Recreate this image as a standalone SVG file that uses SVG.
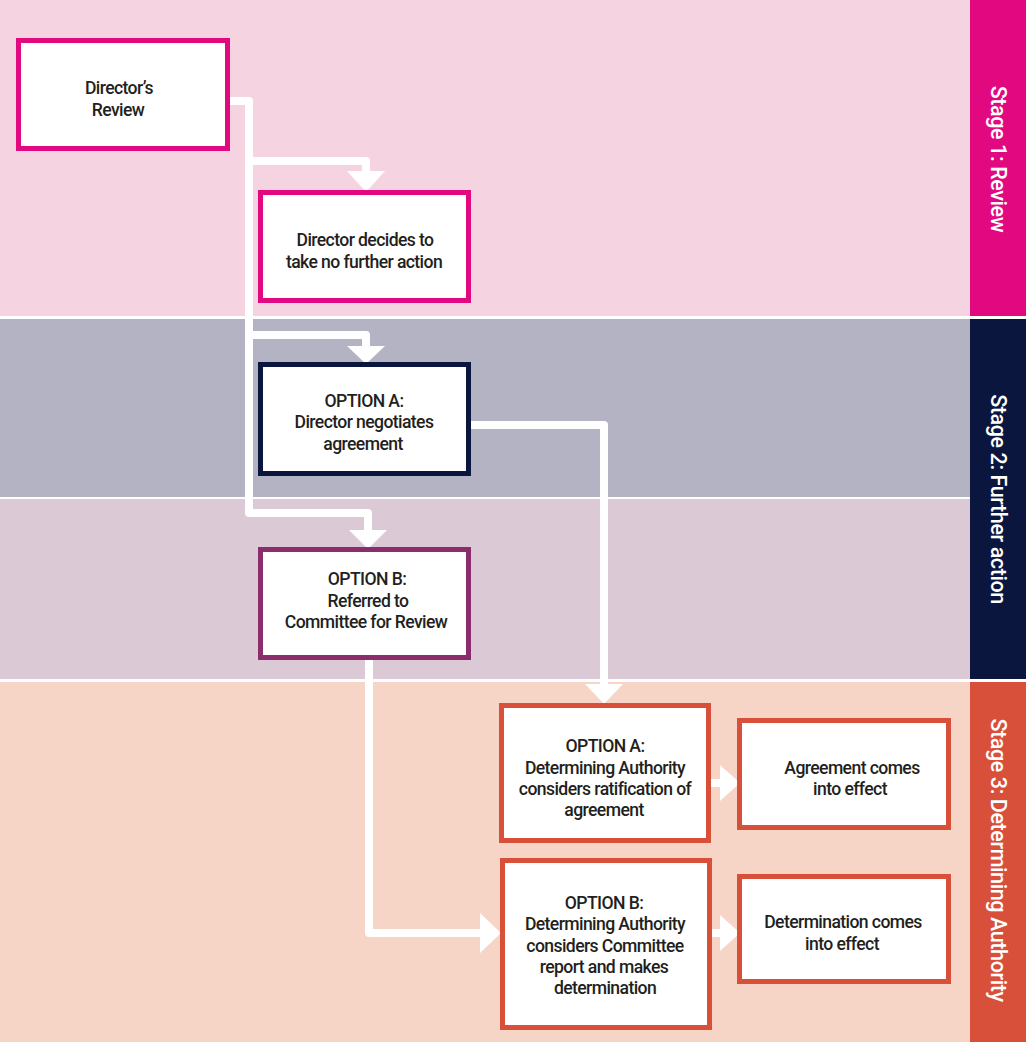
<svg xmlns="http://www.w3.org/2000/svg" width="1026" height="1042" viewBox="0 0 1026 1042">
<defs>
<style>
.box{fill:#ffffff;stroke-width:5}
.t{font-family:Roboto,"Liberation Sans",sans-serif;font-weight:500;font-size:17.6px;fill:#231f20;text-anchor:middle;letter-spacing:-0.6px}
.side{font-family:Roboto,"Liberation Sans",sans-serif;font-weight:500;font-size:21.5px;fill:#ffffff;text-anchor:middle;dominant-baseline:central;letter-spacing:-0.4px}
.con{fill:none;stroke:#ffffff;stroke-width:8;stroke-linejoin:round;stroke-linecap:butt}
.ah{fill:#ffffff}
</style>
</defs>
<!-- background bands -->
<rect x="0" y="0" width="1026" height="1042" fill="#ffffff"/>
<rect x="0" y="0" width="970" height="316" fill="#f6d3e1"/>
<rect x="0" y="319" width="970" height="178" fill="#b4b3c3"/>
<rect x="0" y="499" width="970" height="180" fill="#dcc9d6"/>
<rect x="0" y="682" width="970" height="360" fill="#f6d4c6"/>
<!-- sidebar -->
<rect x="970" y="0" width="56" height="316" fill="#e2087f"/>
<rect x="970" y="319" width="56" height="360" fill="#0b163e"/>
<rect x="970" y="682" width="56" height="360" fill="#d9503a"/>
<text class="side" transform="translate(998,159) rotate(90)">Stage 1: Review</text>
<text class="side" transform="translate(998,499) rotate(90)">Stage 2: Further action</text>
<text class="side" transform="translate(998,860) rotate(90)">Stage 3: Determining Authority</text>
<!-- connectors -->
<g id="connectors">
<path class="con" d="M226,101 H249 V513 H368 V534"/>
<path class="con" d="M249,161 H366 V175"/>
<path class="con" d="M245,335 H366 V350"/>
<polygon class="ah" points="347,171 385,171 366,192"/>
<polygon class="ah" points="347,346 385,346 366,364"/>
<polygon class="ah" points="349,530 387,530 368,549"/>
<path class="con" d="M467,425 H604 V690"/>
<polygon class="ah" points="585,684 623,684 604,704"/>
<path class="con" d="M369,657 V933 H485"/>
<polygon class="ah" points="480,913 480,953 501,933"/>
<path class="con" d="M706,783 H724"/>
<polygon class="ah" points="720,765 720,801 740,783"/>
<path class="con" d="M707,933 H724"/>
<polygon class="ah" points="720,915 720,951 740,933"/>
</g>
<!-- nodes -->
<g id="directors-review">
<rect class="box" x="18.5" y="40.5" width="209" height="108" stroke="#e2087f"/>
<text class="t" x="119" y="94">Director’s</text>
<text class="t" x="118" y="116">Review</text>
</g>
<g id="no-further-action">
<rect class="box" x="260.5" y="192.5" width="208" height="108" stroke="#e2087f"/>
<text class="t" x="365" y="246">Director decides to</text>
<text class="t" x="364" y="268">take no further action</text>
</g>
<g id="option-a-negotiates">
<rect class="box" x="260.5" y="364.5" width="208" height="109" stroke="#0b163e"/>
<text class="t" x="364" y="407">OPTION A:</text>
<text class="t" x="364" y="428">Director negotiates</text>
<text class="t" x="363" y="450">agreement</text>
</g>
<g id="option-b-referred">
<rect class="box" x="260.5" y="549.5" width="208" height="108" stroke="#8b2d6c"/>
<text class="t" x="367" y="585">OPTION B:</text>
<text class="t" x="368" y="607">Referred to</text>
<text class="t" x="366" y="628">Committee for Review</text>
</g>
<g id="da-option-a">
<rect class="box" x="501.5" y="705.5" width="207" height="135" stroke="#d9503a"/>
<text class="t" x="605" y="752">OPTION A:</text>
<text class="t" x="605" y="774">Determining Authority</text>
<text class="t" x="605" y="795">considers ratification of</text>
<text class="t" x="604" y="816">agreement</text>
</g>
<g id="agreement-effect">
<rect class="box" x="739.5" y="720.5" width="209" height="107" stroke="#d9503a"/>
<text class="t" x="852" y="774">Agreement comes</text>
<text class="t" x="850" y="795">into effect</text>
</g>
<g id="da-option-b">
<rect class="box" x="502.5" y="860.5" width="207" height="167" stroke="#d9503a"/>
<text class="t" x="604" y="909">OPTION B:</text>
<text class="t" x="605" y="930">Determining Authority</text>
<text class="t" x="605" y="952">considers Committee</text>
<text class="t" x="604" y="973">report and makes</text>
<text class="t" x="605" y="994">determination</text>
</g>
<g id="determination-effect">
<rect class="box" x="739.5" y="876.5" width="209" height="105" stroke="#d9503a"/>
<text class="t" x="843" y="928">Determination comes</text>
<text class="t" x="842" y="950">into effect</text>
</g>
</svg>
